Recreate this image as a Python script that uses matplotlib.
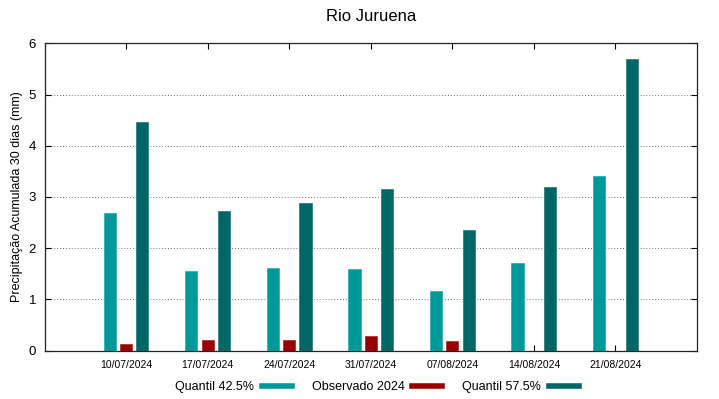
import matplotlib
matplotlib.use("Agg")
import matplotlib.pyplot as plt
from matplotlib.lines import Line2D
import numpy as np

plt.rcParams['font.family'] = ['Liberation Sans', 'DejaVu Sans']

datas = ["10/07/2024", "17/07/2024", "24/07/2024", "31/07/2024",
         "07/08/2024", "14/08/2024", "21/08/2024"]
quantil_425 = [2.68, 1.56, 1.62, 1.60, 1.17, 1.71, 3.40]
observado = [0.12, 0.20, 0.21, 0.29, 0.18, 0.0, 0.0]
quantil_575 = [4.47, 2.73, 2.89, 3.16, 2.36, 3.19, 5.70]

c_q1 = "#009999"
c_obs = "#990000"
c_q2 = "#006666"

fig = plt.figure(figsize=(7.19, 3.99), dpi=100)
ax = fig.add_axes([44.5/719, 1 - 350.5/399, (697 - 44.5)/719, (350.5 - 43.3)/399])

x = np.arange(len(datas))
w = 0.15
ax.bar(x - 0.2, quantil_425, w, color=c_q1, edgecolor="#22aaaa", linewidth=0.5, zorder=3)
ax.bar(x, observado, w, color=c_obs, edgecolor="#aa2222", linewidth=0.5, zorder=3)
ax.bar(x + 0.2, quantil_575, w, color=c_q2, edgecolor="#227777", linewidth=0.5, zorder=3)

ax.set_xlim(-1, 7)
ax.set_ylim(0, 6)
ax.set_xticks(x)
ax.set_xticklabels(datas, fontsize=7.5)
ax.set_yticks(range(7))
ax.tick_params(axis='y', labelsize=9.5, direction='in', right=True, length=4, width=0.8, pad=6)
ax.tick_params(axis='x', direction='in', top=True, length=4, width=0.8, pad=7)
ax.yaxis.grid(True, linestyle=(0, (1, 2)), color="#777777", linewidth=0.7)
for s in ax.spines.values():
    s.set_linewidth(0.9)
    s.set_color("#222222")

ax.set_ylabel("Precipitação Acumulada 30 dias (mm)", fontsize=9, labelpad=4)
ax.set_title("Rio Juruena", fontsize=12, pad=16)

handles = [Line2D([0], [0], color=c, lw=4) for c in (c_q1, c_obs, c_q2)]
labels = ["Quantil 42.5%", "Observado 2024", "Quantil 57.5%"]
fig.legend(handles, labels, loc="center", bbox_to_anchor=(377/719, 1 - 387/399),
           ncol=3, frameon=False, markerfirst=False, fontsize=9,
           handlelength=2.4, columnspacing=1.6, handletextpad=0.6)

fig.savefig("out.png", dpi=100)
